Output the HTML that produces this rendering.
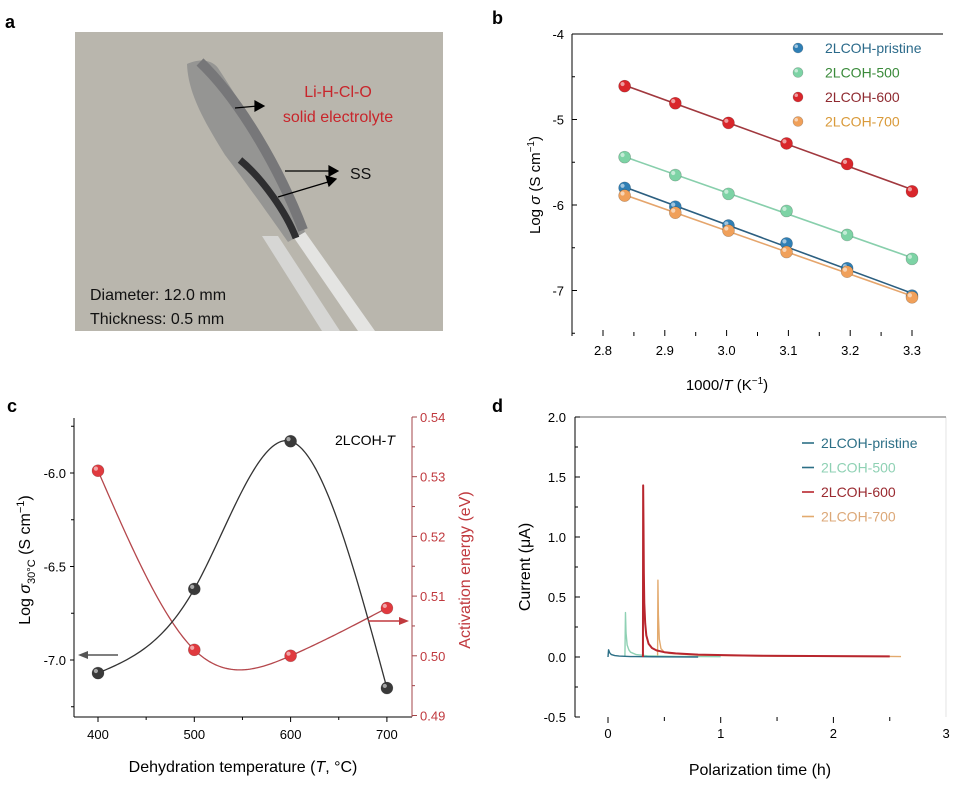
<!DOCTYPE html>
<html><head><meta charset="utf-8"><style>
body{margin:0;background:#fff}
svg{display:block;font-family:"Liberation Sans",Arial,sans-serif}
</style></head><body>
<svg id="s" width="959" height="789" viewBox="0 0 959 789">
<g>
<text x="5" y="28" font-size="18" font-weight="bold">a</text>
<rect x="75" y="32" width="368" height="299" fill="#b9b6ad"/>
<polygon points="262,236 278,236 340,331 322,331" fill="#d6d6d4"/>
<polygon points="290,232 305,232 375,331 358,331" fill="#e4e4e2"/>
<path d="M187,64 C200,58 212,60 218,68 C262,135 292,190 305,232 L288,242 C262,205 238,172 225,155 C200,115 188,90 187,64 Z" fill="#959593"/>
<path d="M200,62 C240,100 280,170 303,230" stroke="#777779" stroke-width="10" fill="none"/>
<path d="M240,160 C262,178 286,212 296,238" stroke="#2e2e30" stroke-width="7" fill="none"/>
<g stroke="#000" stroke-width="1.2" fill="#000">
<line x1="235" y1="108" x2="258" y2="106"/><polygon points="264,106 255,101 255,111"/>
<line x1="285" y1="171" x2="330" y2="171"/><polygon points="338,171 329,166 329,176"/>
<line x1="278" y1="197" x2="328" y2="182"/><polygon points="336,179 326,176 329,186"/>
</g>
<text x="338" y="97" font-size="16" fill="#c8252b" text-anchor="middle">Li-H-Cl-O</text>
<text x="338" y="122" font-size="16" fill="#c8252b" text-anchor="middle">solid electrolyte</text>
<text x="350" y="179" font-size="16" fill="#111">SS</text>
<text x="90" y="300" font-size="16" fill="#111">Diameter: 12.0 mm</text>
<text x="90" y="324" font-size="16" fill="#111">Thickness: 0.5 mm</text>
</g>
<text x="492" y="24" font-size="18" font-weight="bold">b</text>
<text x="7" y="412" font-size="18" font-weight="bold">c</text>
<text x="492" y="412" font-size="18" font-weight="bold">d</text>
<g id="gb"></g>
<g id="gc"></g>
<g id="gd"></g>
</svg>
<script>
// ---- Panel b data ----
const bX = [2.835, 2.917, 3.003, 3.097, 3.195, 3.300];
const bPristine = [-5.80, -6.02, -6.24, -6.45, -6.74, -7.06];
const b500 = [-5.44, -5.65, -5.87, -6.07, -6.35, -6.63];
const b600 = [-4.61, -4.81, -5.04, -5.28, -5.52, -5.84];
const b700 = [-5.89, -6.09, -6.30, -6.55, -6.78, -7.08];
const bXTicks = [2.8, 2.9, 3.0, 3.1, 3.2, 3.3];
const bYTicks = [-4, -5, -6, -7];
const bNames = ['2LCOH-pristine','2LCOH-500','2LCOH-600','2LCOH-700'];
// ---- Panel c data ----
const cT = [400, 500, 600, 700];
const cSigma = [-7.07, -6.62, -5.83, -7.15];
const cEa = [0.531, 0.501, 0.500, 0.508];
const cXTicks = [400, 500, 600, 700];
const cYTicks = [-6.0, -6.5, -7.0];
const cY2Ticks = [0.49, 0.50, 0.51, 0.52, 0.53, 0.54];
// ---- Panel d data ----
const dPristineT = [0.0, 0.005, 0.015, 0.03, 0.06, 0.1, 0.2, 0.4, 0.8];
const dPristineI = [0.0, 0.06, 0.035, 0.02, 0.012, 0.008, 0.004, 0.002, 0.0];
const d500T = [0.15, 0.155, 0.16, 0.17, 0.185, 0.2, 0.25, 0.35, 0.6, 1.0];
const d500I = [0.0, 0.37, 0.2, 0.1, 0.06, 0.04, 0.02, 0.01, 0.005, 0.003];
const d600T = [0.31, 0.312, 0.315, 0.318, 0.322, 0.33, 0.34, 0.36, 0.39, 0.43, 0.5, 0.6, 0.8, 1.2, 1.8, 2.5];
const d600I = [0.0, 1.43, 1.1, 0.7, 0.45, 0.28, 0.18, 0.11, 0.075, 0.055, 0.04, 0.03, 0.02, 0.012, 0.008, 0.005];
const d700T = [0.44, 0.443, 0.447, 0.455, 0.47, 0.5, 0.55, 0.8, 1.5, 2.6];
const d700I = [0.0, 0.64, 0.35, 0.15, 0.07, 0.04, 0.03, 0.015, 0.007, 0.004];
const dXTicks = [0, 1, 2, 3];
const dYTicks = [2.0, 1.5, 1.0, 0.5, 0.0, -0.5];
const dNames = ['2LCOH-pristine','2LCOH-500','2LCOH-600','2LCOH-700'];

const NS='http://www.w3.org/2000/svg';
function mk(p,tag,at,txt){const e=document.createElementNS(NS,tag);for(const k in at)e.setAttribute(k,at[k]);if(txt!==undefined)e.textContent=txt;p.appendChild(e);return e;}
function fmt(v,d){return (v<0?'-':'')+Math.abs(v).toFixed(d);}
function ball(g,x,y,c,r){
  const e=mk(g,'circle',{cx:x,cy:y,r:r,fill:c,stroke:'rgba(0,0,0,0.25)','stroke-width':0.6});
  mk(g,'circle',{cx:x-r*0.35,cy:y-r*0.35,r:r*0.35,fill:'rgba(255,255,255,0.55)'});
  return e;
}

// ===== Panel b =====
(function(){
const g=document.getElementById('gb');
const X=v=>603+(v-2.8)*618, Y=v=>34+(-4-v)*85.5;
mk(g,'line',{x1:572,y1:34,x2:943,y2:34,stroke:'#000','stroke-width':1});
mk(g,'line',{x1:572,y1:34,x2:572,y2:336,stroke:'#000','stroke-width':1});
bYTicks.forEach(t=>{const y=Y(t);
  mk(g,'line',{x1:572,y1:y,x2:577,y2:y,stroke:'#000'});
  const e=mk(g,'text',{x:564,y:y+5,'font-size':13,'text-anchor':'end'},String(t));
  });
[-4.5,-5.5,-6.5,-7.5].forEach(t=>mk(g,'line',{x1:572,y1:Y(t),x2:575,y2:Y(t),stroke:'#000'}));
bXTicks.forEach(t=>{const x=X(t);
  mk(g,'line',{x1:x,y1:330,x2:x,y2:336,stroke:'#000'});
  const e=mk(g,'text',{x:x,y:355,'font-size':13,'text-anchor':'middle'},t.toFixed(1));
  });
for(let i=0;i<5;i++){const x=X(2.85+i*0.1);mk(g,'line',{x1:x,y1:332,x2:x,y2:336,stroke:'#000'});}
let t=mk(g,'text',{x:727,y:390,'font-size':15,'text-anchor':'middle'});
t.innerHTML='1000/<tspan font-style="italic">T</tspan> (K<tspan dy="-6" font-size="10">−1</tspan><tspan dy="6">)</tspan>';

t=mk(g,'text',{x:0,y:0,'font-size':15,'text-anchor':'middle',transform:'translate(540,185) rotate(-90)'});
t.innerHTML='Log <tspan font-style="italic">σ</tspan> (S cm<tspan dy="-6" font-size="10">−1</tspan><tspan dy="6">)</tspan>';

const series=[bPristine,b500,b600,b700];
const cols=['#2f7fb5','#7dd3a5','#d9262b','#f0a05a'];
const lcols=['#2c5f80','#88cfac','#a1383e','#e5a56c'];
const tcols=['#2b6a8a','#3a8a3a','#8f2a30','#d99a3a'];
series.forEach((s,k)=>{
  const n=bX.length;let mx=0,my=0;for(let i=0;i<n;i++){mx+=bX[i];my+=s[i];}mx/=n;my/=n;
  let sxy=0,sxx=0;for(let i=0;i<n;i++){sxy+=(bX[i]-mx)*(s[i]-my);sxx+=(bX[i]-mx)**2;}
  const m=sxy/sxx,b=my-m*mx;
  const l=mk(g,'line',{x1:X(bX[0]),y1:Y(m*bX[0]+b),x2:X(bX[n-1]),y2:Y(m*bX[n-1]+b),stroke:lcols[k],'stroke-width':1.6});
  
  s.forEach((v,i)=>{const c=ball(g,X(bX[i]),Y(v),cols[k],6);
    });
  const ly=48+k*24.5;
  ball(g,798,ly,cols[k],5);
  const e=mk(g,'text',{x:825,y:ly+5,'font-size':14,fill:tcols[k]},bNames[k]);
  
});
})();

function spline(xs,ys){
  const n=xs.length,h=[],a=[],l=[1],mu=[0],z=[0],c=new Array(n).fill(0),b=[],d=[];
  for(let i=0;i<n-1;i++)h.push(xs[i+1]-xs[i]);
  for(let i=1;i<n-1;i++)a[i]=3/h[i]*(ys[i+1]-ys[i])-3/h[i-1]*(ys[i]-ys[i-1]);
  for(let i=1;i<n-1;i++){l[i]=2*(xs[i+1]-xs[i-1])-h[i-1]*mu[i-1];mu[i]=h[i]/l[i];z[i]=(a[i]-h[i-1]*z[i-1])/l[i];}
  for(let j=n-2;j>=0;j--){c[j]=z[j]-mu[j]*c[j+1];b[j]=(ys[j+1]-ys[j])/h[j]-h[j]*(c[j+1]+2*c[j])/3;d[j]=(c[j+1]-c[j])/(3*h[j]);}
  return x=>{let j=Math.min(n-2,Math.max(0,xs.findIndex((v,i)=>i<n-1&&x>=v&&x<=xs[i+1])));const dx=x-xs[j];return ys[j]+b[j]*dx+c[j]*dx*dx+d[j]*dx*dx*dx;};
}

// ===== Panel c =====
(function(){
const g=document.getElementById('gc');
const X=v=>98+(v-400)*0.963, Y=v=>473+(-6-v)*187, Y2=v=>417+(0.54-v)*5970;
mk(g,'line',{x1:74,y1:418,x2:74,y2:717,stroke:'#000'});
mk(g,'line',{x1:74,y1:717,x2:412,y2:717,stroke:'#000'});
mk(g,'line',{x1:412,y1:417,x2:412,y2:717,stroke:'#a34448'});
cYTicks.forEach(t=>{const y=Y(t);mk(g,'line',{x1:70,y1:y,x2:74,y2:y,stroke:'#000'});
  const e=mk(g,'text',{x:66,y:y+5,'font-size':13,'text-anchor':'end'},fmt(t,1));
  });
[-5.75,-6.25,-6.75,-7.25].forEach(t=>mk(g,'line',{x1:71,y1:Y(t),x2:74,y2:Y(t),stroke:'#000'}));
cY2Ticks.forEach(t=>{const y=Y2(t);mk(g,'line',{x1:412,y1:y,x2:417,y2:y,stroke:'#a34448'});
  const e=mk(g,'text',{x:420,y:y+5,'font-size':13,fill:'#c0393e'},t.toFixed(2));
  });
[0.495,0.505,0.515,0.525,0.535].forEach(t=>mk(g,'line',{x1:412,y1:Y2(t),x2:415,y2:Y2(t),stroke:'#a34448'}));
cXTicks.forEach(t=>{const x=X(t);mk(g,'line',{x1:x,y1:717,x2:x,y2:722,stroke:'#000'});
  const e=mk(g,'text',{x:x,y:739,'font-size':13,'text-anchor':'middle'},String(t));
  });
[450,550,650].forEach(t=>mk(g,'line',{x1:X(t),y1:717,x2:X(t),y2:720,stroke:'#000'}));
let t=mk(g,'text',{x:243,y:772,'font-size':16,'text-anchor':'middle'});
t.innerHTML='Dehydration temperature (<tspan font-style="italic">T</tspan>, °C)';

t=mk(g,'text',{x:0,y:0,'font-size':16,'text-anchor':'middle',transform:'translate(30,560) rotate(-90)'});
t.innerHTML='Log <tspan font-style="italic">σ</tspan><tspan dy="5" font-size="11">30°C</tspan><tspan dy="-5"> (S cm</tspan><tspan dy="-6" font-size="11">−1</tspan><tspan dy="6">)</tspan>';

t=mk(g,'text',{x:0,y:0,'font-size':16,'text-anchor':'middle',fill:'#c0393e',transform:'translate(470,570) rotate(-90)'},'Activation energy (eV)');

t=mk(g,'text',{x:335,y:445,'font-size':14});
t.innerHTML='2LCOH-<tspan font-style="italic">T</tspan>';

const f1=spline(cT,cSigma), f2=spline(cT,cEa);
let p1='',p2='';
for(let v=cT[0];v<=cT[cT.length-1];v+=2){p1+=(p1?'L':'M')+X(v)+','+Y(f1(v));p2+=(p2?'L':'M')+X(v)+','+Y2(f2(v));}
let e=mk(g,'path',{d:p2,stroke:'#b5474c',fill:'none','stroke-width':1.3});

e=mk(g,'path',{d:p1,stroke:'#333','stroke-width':1.3,fill:'none'});

cT.forEach((v,i)=>{let c=ball(g,X(v),Y(cSigma[i]),'#3a3a3a',6);
  
  c=ball(g,X(v),Y2(cEa[i]),'#e03a3f',6);
  });
mk(g,'line',{x1:118,y1:655,x2:86,y2:655,stroke:'#555','stroke-width':1.5});
mk(g,'polygon',{points:'78,655 88,651 88,659',fill:'#555'});
mk(g,'line',{x1:368,y1:621,x2:400,y2:621,stroke:'#c0393e','stroke-width':1.5});
mk(g,'polygon',{points:'409,621 399,617 399,625',fill:'#c0393e'});
})();

// ===== Panel d =====
(function(){
const g=document.getElementById('gd');
const X=v=>608+v*112.7, Y=v=>657-v*120;
mk(g,'line',{x1:946,y1:417,x2:946,y2:717,stroke:'#ddd','stroke-width':0.8});
mk(g,'line',{x1:575,y1:417,x2:946,y2:417,stroke:'#666'});
mk(g,'line',{x1:575,y1:417,x2:575,y2:717,stroke:'#000'});
dYTicks.forEach(t=>{const y=Y(t);mk(g,'line',{x1:575,y1:y,x2:580,y2:y,stroke:'#000'});
  const e=mk(g,'text',{x:566,y:y+5,'font-size':13,'text-anchor':'end'},fmt(t,1));
  });
[1.75,1.25,0.75,0.25,-0.25].forEach(t=>mk(g,'line',{x1:575,y1:Y(t),x2:578,y2:Y(t),stroke:'#000'}));
dXTicks.forEach(t=>{const x=X(t);if(t<3)mk(g,'line',{x1:x,y1:717,x2:x,y2:723,stroke:'#000'});
  const e=mk(g,'text',{x:x,y:738,'font-size':13,'text-anchor':'middle'},String(t));
  });
[0.5,1.5,2.5].forEach(t=>mk(g,'line',{x1:X(t),y1:717,x2:X(t),y2:721,stroke:'#000'}));
let t=mk(g,'text',{x:760,y:775,'font-size':16,'text-anchor':'middle'},'Polarization time (h)');

t=mk(g,'text',{x:0,y:0,'font-size':16,'text-anchor':'middle',transform:'translate(530,567) rotate(-90)'},'Current (μA)');

const ts=[dPristineT,d500T,d600T,d700T], is=[dPristineI,d500I,d600I,d700I];
const cols=['#2c6f86','#8fd1b4','#b8262e','#e3aa6e'];
const tcols=['#2c6f86','#8fd1b4','#9a2a30','#dca878'];
const order=[3,1,0,2];
order.forEach(k=>{let p='';ts[k].forEach((v,i)=>{p+=(p?'L':'M')+X(v)+','+Y(is[k][i]);});
  const e=mk(g,'path',{d:p,stroke:cols[k],fill:'none','stroke-width':k==2?2:1.4,'stroke-linejoin':'round'});
  });
dNames.forEach((n,k)=>{const y=443+k*24.5;
  mk(g,'line',{x1:802,y1:y,x2:814,y2:y,stroke:cols[k==1?0:k],'stroke-width':1.6});
  const e=mk(g,'text',{x:821,y:y+5,'font-size':14,fill:tcols[k]},n);
  });
})();
</script>
</body></html>
